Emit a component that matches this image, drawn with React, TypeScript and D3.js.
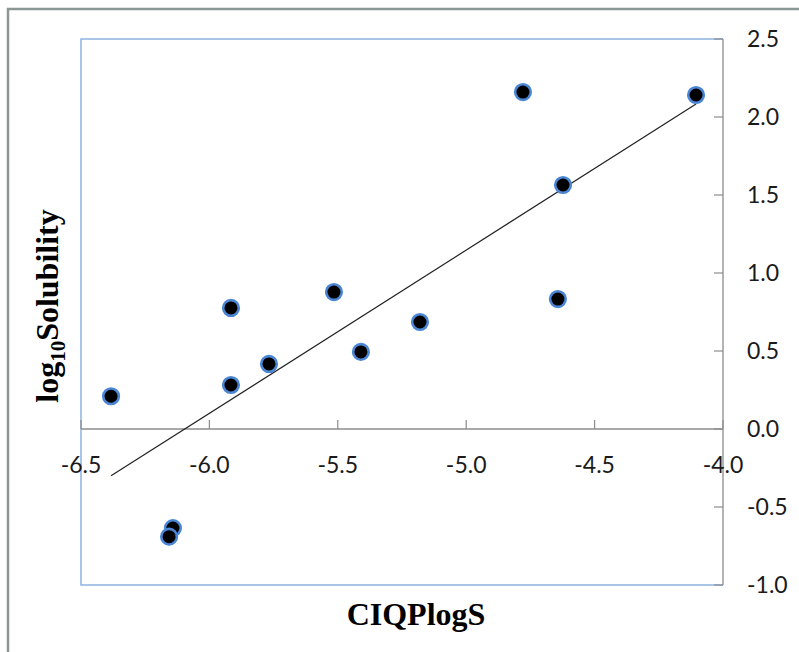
import React from "react";
import * as d3 from "d3";

const xValues = [-6.383, -6.142, -6.157, -5.916, -5.916, -5.768, -5.515, -5.41, -5.18, -4.779, -4.105, -4.623, -4.643];
const yValues = [0.21, -0.635, -0.69, 0.776, 0.282, 0.417, 0.878, 0.494, 0.686, 2.16, 2.141, 1.564, 0.833];
const xTicks = [-6.5, -6.0, -5.5, -5.0, -4.5, -4.0];
const yTicks = [2.5, 2.0, 1.5, 1.0, 0.5, 0.0, -0.5, -1.0];
const xTitle = "CIQPlogS";

export default function App() {
  const W = 799, H = 652;
  const left = 81, right = 723, top = 39, bottom = 585;
  const x = d3.scaleLinear().domain([-6.5, -4.0]).range([left, right]);
  const y = d3.scaleLinear().domain([-1.0, 2.5]).range([bottom, top]);

  const mx = d3.mean(xValues)!;
  const my = d3.mean(yValues)!;
  let sxy = 0, sxx = 0;
  xValues.forEach((v, i) => { sxy += (v - mx) * (yValues[i] - my); sxx += (v - mx) * (v - mx); });
  const slope = sxy / sxx;
  const icpt = my - slope * mx;
  const [x0, x1] = d3.extent(xValues) as [number, number];
  const line = d3.line<number>().x(d => x(d)).y(d => y(slope * d + icpt));

  const y0 = y(0);
  const tickFont = "Lato, 'Open Sans', sans-serif";

  return (
    <svg width={W} height={H} style={{ position: "absolute", left: 0, top: 0, background: "#fff" }}>
      <rect x={8} y={9} width={900} height={800} fill="#fff" stroke="#8a9794" strokeWidth={2.5} />
      <path d={`M${right},${top}H${left}V${bottom}H${right}`} fill="none" stroke="#8db4e2" strokeWidth={1.5} />
      <line x1={right} x2={right} y1={top} y2={bottom} stroke="#8c8c8c" strokeWidth={1.3} />
      {yTicks.map(t => (
        <g key={"y" + t}>
          <line x1={right - 9} x2={right} y1={y(t)} y2={y(t)} stroke="#8c8c8c" strokeWidth={1.2} />
          <text x={747} y={y(t)} dy="0.36em" fontFamily={tickFont} fontSize={23} fill="#1a1a1a">{t.toFixed(1)}</text>
        </g>
      ))}
      <line x1={left} x2={right} y1={y0} y2={y0} stroke="#8c8c8c" strokeWidth={1.3} />
      {xTicks.map(t => (
        <g key={"x" + t}>
          <line x1={x(t)} x2={x(t)} y1={y0 - 9} y2={y0} stroke="#8c8c8c" strokeWidth={1.2} />
          <text x={x(t)} y={y0 + 36} dy="0.36em" textAnchor="middle" fontFamily={tickFont} fontSize={23} fill="#1a1a1a">{t.toFixed(1)}</text>
        </g>
      ))}
      <path d={line([x0, x1]) || ""} fill="none" stroke="#222" strokeWidth={1.2} />
      {xValues.map((v, i) => (
        <circle key={i} cx={x(v)} cy={y(yValues[i])} r={7.8} fill="#000" stroke="#4a86d4" strokeWidth={2.6} />
      ))}
      <text x={416} y={625} textAnchor="middle" fontFamily="'Liberation Serif', 'Times New Roman', serif" fontWeight="bold" fontSize={32} fill="#000">{xTitle}</text>
      <text transform={`translate(58,306) rotate(-90)`} textAnchor="middle" fontFamily="'Liberation Serif', 'Times New Roman', serif" fontWeight="bold" fontSize={32} fill="#000">
        log<tspan fontSize={21} dy={7}>10</tspan><tspan dy={-7}>Solubility</tspan>
      </text>
    </svg>
  );
}
